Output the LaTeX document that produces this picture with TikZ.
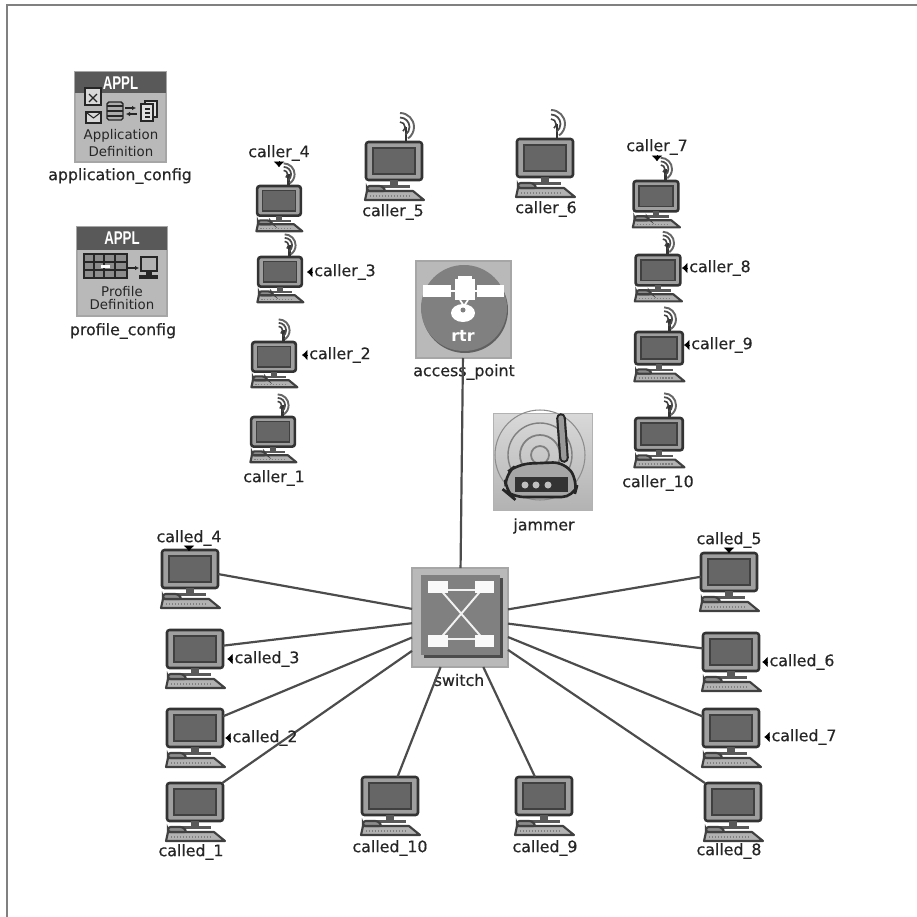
\documentclass[tikz,border=0pt]{standalone}
\usepackage{fontspec}
\setmainfont{DejaVu Sans}
\newfontfamily\applfont{Liberation Sans}
\newfontfamily\lblfont[FakeBold=0.5]{DejaVu Sans}
\usetikzlibrary{arrows.meta}

\tikzset{
    pics/desktop/.style={
        code={
            \fill[gray!75, rounded corners=1pt] (-27,1) rectangle (27,37);
            \draw[black!75, fill=gray!80!black, line width=0.9pt] (-21,6) rectangle (21,32);
            \node[
                hostscreen
            ] (-mon) at (0,19) {};
            \fill[gray!70!black] (-4,38) rectangle (4,43);
            \fill[gray!70!black] (-16,43) rectangle (16,46);
            \draw[black!75, fill=gray!60, line width=1.2pt, line join=round]
            (-29,58) -- (-27,49) -- (19,49) -- (30,58) -- cycle;
            \draw[black!75, fill=gray!90, line width=1.2pt, rounded corners=1.5pt]
            (-27,49) -- (-27,44) -- (-12,44) -- (-8,49) -- cycle;
            \draw[gray!100, line width=0.7pt, densely dotted] (-24,54) -- (17,54);
        }
    },
    pics/wireless/.style={
        code={
            \draw[black!80, line width=1.5pt] (12,0) -- (12,-15);
            \draw[gray!50!black, line width=0.9pt] (6,-20) arc[start angle=-90, end angle=55, radius=5];
            \draw[gray!60!black, line width=1pt] (6,-24.5) arc[start angle=-90, end angle=55, radius=9.5];
            \draw[gray!80!black, line width=1.1pt] (6,-29) arc[start angle=-90, end angle=55, radius=14];
        }
    }
}

\begin{document}
\begin{tikzpicture}[x=0.02cm,y=-0.02cm,
    hostscreen/.style={
        draw=black!80,
        line width=1.5pt,
        rounded corners=1.5pt,
        minimum width=1.12cm,
        minimum height=0.76cm,
        inner sep=0pt,
        outer sep=0pt,
        transform shape
    },
    hostlabel/.style={
        text=black!85,
        font=\lblfont\fontsize{9}{10}\selectfont,
        inner sep=0pt
    },
    tagtip/.style={
        black,
        line width=0.3pt,
        -{Latex[length=1.1mm,width=2.1mm]}
    },
    linkline/.style={
        gray!60!black,
        line width=1.25pt
    },
    devbox/.style={
        fill=gray!55,
        draw=gray!70,
        line width=0.6pt,
        inner sep=0pt,
        outer sep=0pt
    },
    appltext/.style={
        text=gray!30!black,
        font=\fontsize{7.6}{8}\selectfont,
        inner sep=0pt
    },
    applhead/.style={
        text=white,
        font=\applfont\bfseries\fontsize{10.5}{12}\selectfont,
        xscale=0.72,
        transform shape,
        inner sep=0pt
    }
]

% frame
\draw[gray!100, line width=1.2pt] (7,917) -- (7,5) -- (917,5);

% application_config
\node[devbox, minimum width=1.82cm, minimum height=1.8cm] (appbox) at (120.5,117) {};
\fill[gray!70!black] (75,72) rectangle (166,93);
\node[applhead] (appname) at (120.5,83) {APPL};
\draw[black!85, fill=gray!30, line width=0.9pt] (85,88) rectangle (101,105);
\draw[black!85, line width=0.7pt] (89,94) -- (97,102) (97,94) -- (89,102);
\draw[black!85, fill=gray!30, line width=0.9pt] (86,112) rectangle (101,123);
\draw[black!85, line width=0.6pt] (87,113) -- (93.5,118) -- (100,113);
\draw[black!85, fill=gray!65, line width=0.8pt, rounded corners=1pt] (107,102) rectangle (123,120);
\draw[black!85, line width=0.7pt] (107,106) -- (123,106) (107,111) -- (123,111) (107,116) -- (123,116);
\draw[black!85, line width=0.7pt, -{Latex[length=0.8mm,width=0.9mm]}] (125,108) -- (136,108);
\draw[black!85, line width=0.7pt, -{Latex[length=0.8mm,width=0.9mm]}] (137,114) -- (126,114);
\draw[black!85, fill=gray!25, line width=0.7pt] (145,101) rectangle (157,117);
\draw[black!85, fill=gray!25, line width=0.7pt] (141,104) rectangle (153,121);
\draw[black!85, line width=0.7pt] (145,109) -- (150,109) (145,113) -- (150,113) (145,117) -- (150,117);
\node[appltext] (apptxta) at (121,136) {Application};
\node[appltext] (apptxtb) at (121,152) {Definition};
\node[hostlabel] (lb_application) at (120,176) {application\_config};

% profile_config
\node[devbox, minimum width=1.8cm, minimum height=1.78cm] (profbox) at (122,271.5) {};
\fill[gray!70!black] (77,227) rectangle (167,250);
\node[applhead] (profname) at (122,238.5) {APPL};
\draw[black!85, fill=gray!90, line width=0.7pt] (84,254) rectangle (127,278);
\draw[black!85, line width=0.6pt]
(84,262) -- (127,262) (84,270) -- (127,270)
(94,254) -- (94,278) (104,254) -- (104,278) (115,254) -- (115,278);
\fill[white] (101,265) rectangle (110,268);
\draw[black!85, line width=0.7pt, -{Latex[length=0.8mm,width=0.9mm]}] (127,268) -- (139,268);
\draw[black!85, fill=gray!60, line width=1pt] (141,257) rectangle (157,271);
\fill[black!85] (146,271) rectangle (152,275);
\fill[black!85] (139,275) rectangle (158,279);
\node[appltext] (proftxta) at (122,292) {Profile};
\node[appltext] (proftxtb) at (122,305) {Definition};
\node[hostlabel] (lb_profile) at (123,331) {profile\_config};

% callers
\pic[scale=0.78] (caller_1) at (273,417) {desktop};
\pic[scale=0.78] at (273,417) {wireless};
\pic[scale=0.78] (caller_2) at (274,342) {desktop};
\pic[scale=0.78] at (274,342) {wireless};
\pic[scale=0.78] (caller_3) at (280,257) {desktop};
\pic[scale=0.78] at (280,257) {wireless};
\pic[scale=0.78] (caller_4) at (279,186) {desktop};
\pic[scale=0.78] at (279,186) {wireless};
\pic (caller_5) at (394,142) {desktop};
\pic at (394,142) {wireless};
\pic (caller_6) at (545,139) {desktop};
\pic at (545,139) {wireless};
\pic[scale=0.8] (caller_7) at (656,181) {desktop};
\pic[scale=0.8] at (656,181) {wireless};
\pic[scale=0.8] (caller_8) at (658,255) {desktop};
\pic[scale=0.8] at (658,255) {wireless};
\pic[scale=0.85] (caller_9) at (659,332) {desktop};
\pic[scale=0.85] at (659,332) {wireless};
\pic[scale=0.85] (caller_10) at (659,418) {desktop};
\pic[scale=0.85] at (659,418) {wireless};

% called
\pic (called_1) at (195,783) {desktop};
\pic (called_2) at (195,709) {desktop};
\pic (called_3) at (195,630) {desktop};
\pic (called_4) at (190,550) {desktop};
\pic (called_5) at (729,553) {desktop};
\pic (called_6) at (731,633) {desktop};
\pic (called_7) at (731,709) {desktop};
\pic (called_8) at (733,783) {desktop};
\pic (called_9) at (544,777) {desktop};
\pic (called_10) at (390,777) {desktop};

% access_point
\node[
    devbox,
    minimum width=1.9cm,
    minimum height=1.94cm
] (access_point) at (463.5,309.5) {};
\fill[gray!75!black] (465,310) circle[radius=43];
\fill[gray!100] (464,308) circle[radius=43];
\fill[white] (423,285) -- (451,285) -- (451,297) -- (423,297) -- cycle;
\fill[white] (477,285) -- (504,285) -- (504,297) -- (477,297) -- cycle;
\draw[white, line width=0.8pt] (451,291) -- (477,291);
\fill[white] (455,279) rectangle (475,300);
\fill[white] (458,276) rectangle (472,280);
\draw[white, line width=1pt] (460,300) -- (464,306) -- (468,300);
\fill[white] (463,313) ellipse[x radius=12, y radius=9];
\fill[gray!100] (463,310) circle[radius=2.5];
\node[
    text=white,
    font=\bfseries\fontsize{9}{10}\selectfont,
    inner sep=0pt
] (rtrname) at (463,336) {rtr};
\node[hostlabel] (lb_access_point) at (464,372) {access\_point};

% jammer
\node[
    draw=gray!60,
    top color=gray!30,
    bottom color=gray!60,
    minimum width=1.98cm,
    minimum height=1.94cm,
    inner sep=0pt
] (jammer) at (542.5,461.5) {};
\draw[gray!100, line width=1pt] (540,455) circle[radius=9];
\draw[gray!100, line width=1pt] (540,455) circle[radius=20];
\draw[gray!100, line width=0.8pt] (540,455) circle[radius=32];
\draw[gray!90, line width=0.6pt] (540,455) circle[radius=45];
\draw[black!85, line width=5.5pt, line cap=round] (561,418) -- (564,458);
\draw[gray!80, line width=3pt, line cap=round] (561,418) -- (564,458);
\draw[black!85, fill=gray!70, line width=1.5pt, rounded corners=7pt]
(506,492) -- (505,474) -- (518,464) -- (565,462) -- (578,482) -- (574,497) -- (512,497) -- cycle;
\fill[black!80] (515,477) rectangle (568,492);
\fill[gray!50] (525,485) circle[radius=3.5];
\fill[gray!50] (536,485) circle[radius=3.5];
\fill[gray!50] (548,485) circle[radius=3.5];
\node[hostlabel] (lb_jammer) at (544,526) {jammer};

% switch
\node[
    devbox,
    minimum width=1.92cm,
    minimum height=1.98cm
] (switch) at (460,617.5) {};
\fill[gray!60!black] (424,578) rectangle (503,658);
\fill[gray!100] (421,575) rectangle (500,655);
\draw[gray!10, line width=1.1pt] (438,587) -- (485,641) (484,587) -- (438,641);
\draw[gray!10, line width=1.1pt] (438,590) -- (485,590) (438,639) -- (485,639);
\fill[gray!5] (428,581) rectangle (448,593);
\fill[gray!5] (475,581) rectangle (494,593);
\fill[gray!5] (428,635) rectangle (448,647);
\fill[gray!5] (475,635) rectangle (494,647);
\node[hostlabel] (lb_switch) at (459,680) {switch};

% links
\draw[linkline] (access_point) -- (switch);
\draw[linkline] (called_1-mon) -- (switch);
\draw[linkline] (called_2-mon) -- (switch);
\draw[linkline] (called_3-mon) -- (switch);
\draw[linkline] (called_4-mon) -- (switch);
\draw[linkline] (called_5-mon) -- (switch);
\draw[linkline] (called_6-mon) -- (switch);
\draw[linkline] (called_7-mon) -- (switch);
\draw[linkline] (called_8-mon) -- (switch);
\draw[linkline] (called_9-mon) -- (switch);
\draw[linkline] (called_10-mon) -- (switch);

% host labels
\node[hostlabel] (lb_caller_1) at (274,478) {caller\_1};
\node[hostlabel] (lb_caller_2) at (340,355) {caller\_2};
\node[hostlabel] (lb_caller_3) at (345,272) {caller\_3};
\node[hostlabel] (lb_caller_4) at (279,153) {caller\_4};
\node[hostlabel] (lb_caller_5) at (393,212) {caller\_5};
\node[hostlabel] (lb_caller_6) at (546,209) {caller\_6};
\node[hostlabel] (lb_caller_7) at (657,147) {caller\_7};
\node[hostlabel] (lb_caller_8) at (720,268) {caller\_8};
\node[hostlabel] (lb_caller_9) at (722,345) {caller\_9};
\node[hostlabel] (lb_caller_10) at (658,483) {caller\_10};
\node[hostlabel] (lb_called_1) at (191,852) {called\_1};
\node[hostlabel] (lb_called_2) at (265,738) {called\_2};
\node[hostlabel] (lb_called_3) at (267,659) {called\_3};
\node[hostlabel] (lb_called_4) at (189,538) {called\_4};
\node[hostlabel] (lb_called_5) at (729,540) {called\_5};
\node[hostlabel] (lb_called_6) at (802,662) {called\_6};
\node[hostlabel] (lb_called_7) at (804,737) {called\_7};
\node[hostlabel] (lb_called_8) at (729,851) {called\_8};
\node[hostlabel] (lb_called_9) at (545,848) {called\_9};
\node[hostlabel] (lb_called_10) at (390,848) {called\_10};

% small tips beside the labels
\draw[tagtip] (lb_caller_2.west) ++(-1,0) -- ++(-6,0);
\draw[tagtip] (lb_caller_3.west) ++(-1,0) -- ++(-6,0);
\draw[tagtip] (lb_caller_8.west) ++(-1,0) -- ++(-6,0);
\draw[tagtip] (lb_caller_9.west) ++(-1,0) -- ++(-6,0);
\draw[tagtip] (lb_called_2.west) ++(-1,0) -- ++(-6,0);
\draw[tagtip] (lb_called_3.west) ++(-1,0) -- ++(-6,0);
\draw[tagtip] (lb_called_6.west) ++(-1,0) -- ++(-6,0);
\draw[tagtip] (lb_called_7.west) ++(-1,0) -- ++(-6,0);
\draw[tagtip] (lb_caller_4.south) -- ++(0,6);
\draw[tagtip] (lb_caller_7.south) -- ++(0,6);
\draw[tagtip] (lb_called_4.south) -- ++(0,5);
\draw[tagtip] (lb_called_5.south) -- ++(0,5);

\pgfresetboundingbox
\path[use as bounding box] (0,0) rectangle (917,917);
\end{tikzpicture}
\end{document}
